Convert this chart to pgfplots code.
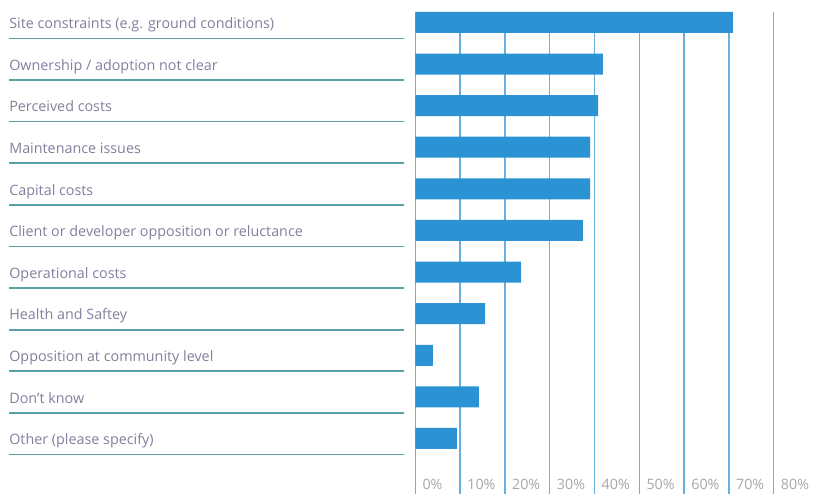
\documentclass[border=0pt]{standalone}
\usepackage{pgfplots}
\pgfplotsset{compat=1.18}
\usepackage{fontspec}
\setmainfont{Open Sans}
\definecolor{barblue}{RGB}{43,147,211}
\definecolor{gridblue}{RGB}{104,176,226}
\definecolor{labelgrey}{RGB}{128,128,158}
\definecolor{lineteal}{RGB}{92,160,168}
\definecolor{tickgrey}{RGB}{166,166,166}
\begin{document}
\begin{tikzpicture}
\path[use as bounding box] (-311.5pt,0pt) rectangle (298.3pt,370.5pt);
\begin{axis}[
  at={(0pt,0pt)}, anchor=south west,
  scale only axis,
  width=268.8pt, height=361.5pt,
  xmin=0, xmax=80,
  ymin=-1.334, ymax=10.25,
  xbar, bar width=15.75pt,
  axis line style={draw=none},
  xtick={0,10,...,80},
  xticklabels={0\%,10\%,20\%,30\%,40\%,50\%,60\%,70\%,80\%},
  xticklabel style={anchor=base west, xshift=5.25pt, yshift=3pt, inner sep=0pt, font=\fontsize{10.7}{12}\selectfont, text=tickgrey},
  ytick={0,...,10},
  yticklabels={Other (please specify),Don’t know,Opposition at community level,Health and Saftey,Operational costs,Client or developer opposition or reluctance,Capital costs,Maintenance issues,Perceived costs,Ownership / adoption not clear,Site constraints (e.g. ground conditions)},
  yticklabel style={anchor=base west, xshift=-304.7pt, yshift=-4.7pt, inner sep=0pt, font=\fontsize{10.75}{12}\selectfont, text=labelgrey},
  major tick length=0pt,
  xmajorgrids,
  grid style={gridblue, line width=1.1pt},
  clip=false,
]
\addplot[fill=barblue, draw=none] coordinates {
  (9.3,0) (14.2,1) (3.9,2) (15.6,3) (23.6,4) (37.4,5) (39.0,6) (39.0,7) (40.8,8) (41.9,9) (70.9,10)
};
\pgfplotsinvokeforeach{0,...,10}{
  \draw[lineteal, line width=1.3pt] ([xshift=-304.7pt,yshift=-12pt]axis cs:0,#1) -- ([xshift=-8.5pt,yshift=-12pt]axis cs:0,#1);
}
\end{axis}
\end{tikzpicture}
\end{document}
